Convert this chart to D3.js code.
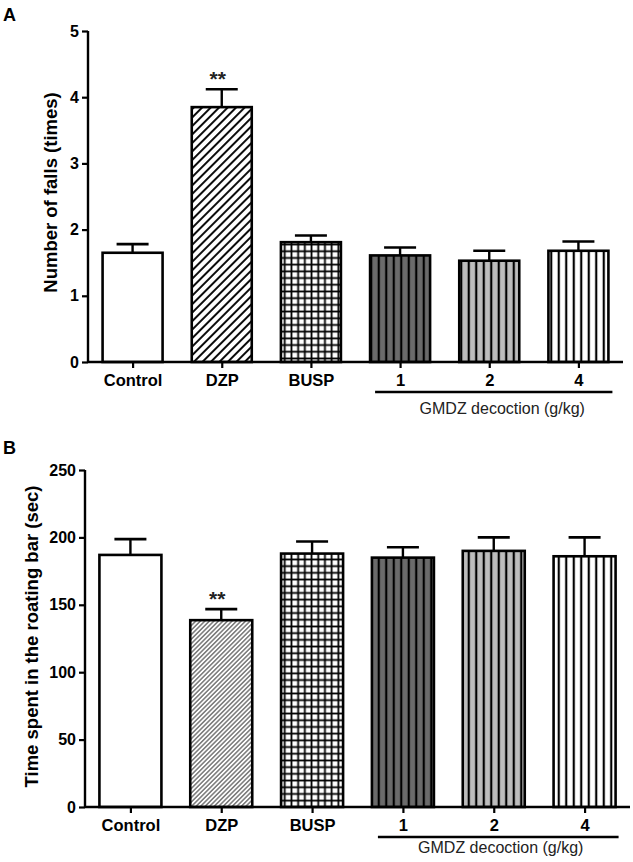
<!DOCTYPE html>
<html>
<head>
<meta charset="utf-8">
<script src="https://cdn.jsdelivr.net/npm/d3@7"></script>
<style>
  html, body { margin: 0; padding: 0; background: #fff; }
  svg { display: block; }
  text { font-family: "Liberation Sans", Arial, sans-serif; }
</style>
</head>
<body>
<svg id="chart" width="633" height="862"></svg>
<script>
// ---------- DATA ----------
const categories = ["Control", "DZP", "BUSP", "1", "2", "4"];
const fallsMean = [1.65, 3.85, 1.81, 1.61, 1.53, 1.68];
const fallsErr  = [0.13, 0.27, 0.10, 0.12, 0.15, 0.14];
const timeMean  = [187, 138.6, 188, 185, 190, 186];
const timeErr   = [11.7, 8.2, 9, 7.7, 10, 14];
const fallsTicks = [0, 1, 2, 3, 4, 5];
const timeTicks  = [0, 50, 100, 150, 200, 250];
const groupLabel = "GMDZ decoction (g/kg)";
const sigMarks = ["", "**", "", "", "", ""];

const svg = d3.select("#chart");
const defs = svg.append("defs");

// ---------- PATTERNS ----------
function diagPattern(id, spacing, sw, col) {
  const p = defs.append("pattern").attr("id", id)
    .attr("patternUnits", "userSpaceOnUse")
    .attr("width", spacing).attr("height", spacing)
    .attr("patternTransform", "rotate(45)");
  p.append("rect").attr("width", spacing).attr("height", spacing).attr("fill", "#fff");
  p.append("line").attr("x1", spacing / 2).attr("y1", 0).attr("x2", spacing / 2).attr("y2", spacing)
    .attr("stroke", col).attr("stroke-width", sw);
}
function gridPattern(id, s, sw) {
  const p = defs.append("pattern").attr("id", id)
    .attr("patternUnits", "userSpaceOnUse").attr("width", s).attr("height", s);
  p.append("rect").attr("width", s).attr("height", s).attr("fill", "#fff");
  p.append("line").attr("x1", 0).attr("y1", s / 2).attr("x2", s).attr("y2", s / 2)
    .attr("stroke", "#000").attr("stroke-width", sw);
  p.append("line").attr("x1", s / 2).attr("y1", 0).attr("x2", s / 2).attr("y2", s)
    .attr("stroke", "#000").attr("stroke-width", sw);
}
function vertPattern(id, s, sw, bg) {
  const p = defs.append("pattern").attr("id", id)
    .attr("patternUnits", "userSpaceOnUse").attr("width", s).attr("height", s);
  p.append("rect").attr("width", s).attr("height", s).attr("fill", bg);
  p.append("line").attr("x1", s / 2).attr("y1", 0).attr("x2", s / 2).attr("y2", s)
    .attr("stroke", "#000").attr("stroke-width", sw);
}
diagPattern("diagA", 6, 1.9, "#000");
diagPattern("diagB", 3.2, 1, "#333");
gridPattern("gridP", 6.7, 1.8);
vertPattern("vertDark", 7.5, 2.2, "#6b6b6b");
vertPattern("vertLight", 7.5, 2.2, "#bdbdbd");
vertPattern("vertWhite", 7.5, 2.2, "#ffffff");

// ---------- PANEL DRAW ----------
function drawPanel(cfg) {
  const g = svg.append("g");
  const x = d3.scalePoint().domain(categories).range([cfg.x0, cfg.x1]).padding(0.5);
  const y = d3.scaleLinear().domain([cfg.ticks[0], cfg.ticks[cfg.ticks.length - 1]])
    .range([cfg.yBottom, cfg.yTop]);

  // bars
  g.selectAll("rect.bar").data(categories).join("rect")
    .attr("class", "bar")
    .attr("x", d => x(d) - cfg.bw / 2)
    .attr("width", cfg.bw)
    .attr("y", (d, i) => y(cfg.mean[i]))
    .attr("height", (d, i) => y(0) - y(cfg.mean[i]))
    .attr("fill", (d, i) => cfg.fills[i])
    .attr("stroke", "#000").attr("stroke-width", 2.6);

  // error bars (upper only)
  const eb = g.selectAll("g.err").data(categories).join("g").attr("class", "err");
  eb.append("line")
    .attr("x1", d => x(d)).attr("x2", d => x(d))
    .attr("y1", (d, i) => y(cfg.mean[i]))
    .attr("y2", (d, i) => y(cfg.mean[i] + cfg.err[i]))
    .attr("stroke", "#000").attr("stroke-width", 2.4);
  eb.append("line")
    .attr("x1", d => x(d) - 16).attr("x2", d => x(d) + 16)
    .attr("y1", (d, i) => y(cfg.mean[i] + cfg.err[i]))
    .attr("y2", (d, i) => y(cfg.mean[i] + cfg.err[i]))
    .attr("stroke", "#000").attr("stroke-width", 2.6);

  // significance
  g.selectAll("text.sig").data(categories).join("text")
    .attr("class", "sig")
    .attr("x", d => x(d) - 4)
    .attr("y", (d, i) => y(cfg.mean[i] + cfg.err[i]) - 3)
    .attr("text-anchor", "middle")
    .attr("font-size", 21).attr("font-weight", "bold")
    .attr("fill", "#222")
    .text((d, i) => sigMarks[i]);

  // y axis
  const ya = g.append("g").attr("transform", `translate(${cfg.x0},0)`)
    .call(d3.axisLeft(y).tickValues(cfg.ticks).tickSize(6).tickPadding(3).tickFormat(d3.format("d")));
  ya.select(".domain").attr("stroke-width", 2.4).attr("d", `M0,${cfg.yBottom}V${cfg.yTop}`);
  ya.selectAll(".tick line").attr("stroke-width", 2.2);
  ya.selectAll(".tick text").attr("font-size", 16).attr("font-weight", "bold")
    .attr("font-family", "Liberation Sans, Arial, sans-serif").attr("fill", "#000");

  // x axis
  const xa = g.append("g").attr("transform", `translate(0,${cfg.yBottom})`)
    .call(d3.axisBottom(x).tickSize(6).tickPadding(6));
  xa.select(".domain").attr("stroke-width", 2.4).attr("d", `M${cfg.x0},0H${cfg.xEnd}`);
  xa.selectAll(".tick line").attr("stroke-width", 2.2);
  xa.selectAll(".tick text").attr("font-size", 16.5).attr("font-weight", "bold")
    .attr("font-family", "Liberation Sans, Arial, sans-serif").attr("fill", "#000");

  // group underline & label
  g.append("line")
    .attr("x1", x("1") - 25).attr("x2", x("4") + 34)
    .attr("y1", cfg.underY).attr("y2", cfg.underY)
    .attr("stroke", "#000").attr("stroke-width", 2.6);
  g.append("text")
    .attr("x", (x("1") + x("4")) / 2 + cfg.labelShift)
    .attr("y", cfg.underY + cfg.labelDy)
    .attr("text-anchor", "middle").attr("font-size", 16)
    .attr("fill", "#222")
    .text(groupLabel);

  // y label
  g.append("text")
    .attr("transform", `translate(${cfg.ylabX},${(cfg.yTop + cfg.yBottom) / 2 + cfg.ylabDy}) rotate(-90)`)
    .attr("text-anchor", "middle").attr("dominant-baseline", "central")
    .attr("font-size", 18.5).attr("font-weight", "bold")
    .text(cfg.ylabel);

  // panel letter
  g.append("text").attr("x", cfg.letterX).attr("y", cfg.letterY)
    .attr("font-size", 18).attr("font-weight", "bold").text(cfg.letter);
}

drawPanel({
  x0: 88, x1: 623, xEnd: 623, yTop: 31, yBottom: 362, bw: 60,
  ticks: fallsTicks, mean: fallsMean, err: fallsErr,
  fills: ["#fff", "url(#diagA)", "url(#gridP)", "url(#vertDark)", "url(#vertLight)", "url(#vertWhite)"],
  underY: 392, labelDy: 22, labelShift: 13,
  ylabX: 50, ylabDy: -4, ylabel: "Number of falls (times)",
  letter: "A", letterX: 3, letterY: 21
});

drawPanel({
  x0: 85, x1: 630, xEnd: 630, yTop: 470, yBottom: 807, bw: 62,
  ticks: timeTicks, mean: timeMean, err: timeErr,
  fills: ["#fff", "url(#diagB)", "url(#gridP)", "url(#vertDark)", "url(#vertLight)", "url(#vertWhite)"],
  underY: 837, labelDy: 16, labelShift: 7,
  ylabX: 31, ylabDy: -2, ylabel: "Time spent in the roating bar (sec)",
  letter: "B", letterX: 3, letterY: 454
});
</script>
</body>
</html>
